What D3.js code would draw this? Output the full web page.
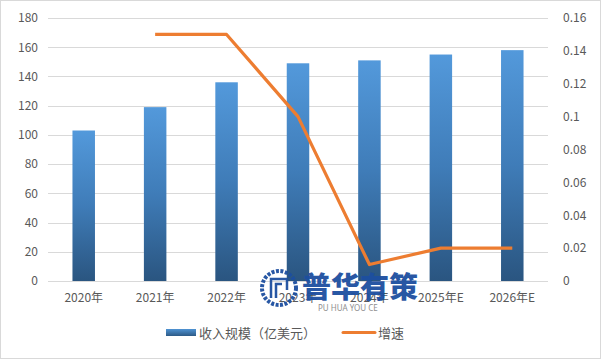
<!DOCTYPE html>
<html><head><meta charset="utf-8">
<script src="https://cdn.jsdelivr.net/npm/d3@7"></script>
<style>
html,body{margin:0;padding:0;background:#fff;}
svg{display:block;font-family:"Noto Sans CJK SC","Noto Sans",sans-serif;}
</style></head>
<body>
<svg id="chart" width="601" height="361"></svg>
<script>
const categories = ["2020年","2021年","2022年","2023年","2024年","2025年E","2026年E"];
const revenue = [103, 119, 136, 149, 151, 155, 158];
const growth = [null, 0.15, 0.15, 0.10, 0.01, 0.02, 0.02];
const leftTicks = [0,20,40,60,80,100,120,140,160,180];
const rightTicks = [0,0.02,0.04,0.06,0.08,0.1,0.12,0.14,0.16];
const seriesNames = ["收入规模（亿美元）","增速"];

const svg = d3.select("#chart");
const W = 601, H = 361;
const m = {left:48, right:53, top:18, bottom:80};
const x0 = m.left, x1 = W - m.right, y0 = H - m.bottom, y1 = m.top;

// border
svg.append("rect").attr("x",0.5).attr("y",0.5).attr("width",W-1).attr("height",H-3)
  .attr("fill","#fff").attr("stroke","#d9d9d9");

const defs = svg.append("defs");
const grad = defs.append("linearGradient").attr("id","barGrad").attr("x1",0).attr("y1",0).attr("x2",0).attr("y2",1);
grad.append("stop").attr("offset","0%").attr("stop-color","#5399db");
grad.append("stop").attr("offset","50%").attr("stop-color","#3f7cb8");
grad.append("stop").attr("offset","100%").attr("stop-color","#2a5580");
const lgGrad = defs.append("linearGradient").attr("id","lgGrad").attr("x1",0).attr("y1",0).attr("x2",0).attr("y2",1);
lgGrad.append("stop").attr("offset","0%").attr("stop-color","#4f93d3");
lgGrad.append("stop").attr("offset","100%").attr("stop-color","#2d5a86");

const x = d3.scaleBand().domain(categories).range([x0,x1]).paddingInner(0.685).paddingOuter(0.3425);
const yL = d3.scaleLinear().domain([0,180]).range([y0,y1]);
const yR = d3.scaleLinear().domain([0,0.16]).range([y0,y1]);

// gridlines
svg.append("g").selectAll("line").data(leftTicks).join("line")
  .attr("x1",x0).attr("x2",x1).attr("y1",d=>Math.round(yL(d))+0.5).attr("y2",d=>Math.round(yL(d))+0.5)
  .attr("stroke","#d9d9d9").attr("stroke-width",1);

// left axis
const axL = svg.append("g").attr("transform",`translate(${x0},0)`)
  .call(d3.axisLeft(yL).tickValues(leftTicks).tickSize(0).tickPadding(10).tickFormat(d3.format("d")));
axL.select(".domain").remove();
axL.selectAll("text").attr("fill","#595959").style("font-size","12px").style("font-family","'Noto Sans CJK SC',sans-serif");

// right axis
const axR = svg.append("g").attr("transform",`translate(${x1},0)`)
  .call(d3.axisRight(yR).tickValues(rightTicks).tickSize(0).tickPadding(15).tickFormat(d=>d===0?"0":String(+d.toFixed(2))));
axR.select(".domain").remove();
axR.selectAll("text").attr("fill","#595959").style("font-size","12px").style("font-family","'Noto Sans CJK SC',sans-serif");

// bars
svg.append("g").selectAll("rect").data(revenue).join("rect")
  .attr("x",(d,i)=>x(categories[i])).attr("width",x.bandwidth())
  .attr("y",d=>yL(d)).attr("height",d=>yL(0)-yL(d))
  .attr("fill","url(#barGrad)");

// x axis
const axB = svg.append("g").attr("transform",`translate(0,${y0})`)
  .call(d3.axisBottom(x).tickSize(0).tickPadding(12));
axB.select(".domain").remove();
axB.selectAll("text").attr("fill","#595959").style("font-size","12px").style("font-family","'Noto Sans CJK SC',sans-serif");

// line
const line = d3.line().defined(d=>d!==null)
  .x((d,i)=>x(categories[i])+x.bandwidth()/2).y(d=>yR(d));
svg.append("path").datum(growth).attr("d",line)
  .attr("fill","none").attr("stroke","#ed7d31").attr("stroke-width",3.2).attr("stroke-linejoin","round");

// watermark
const wm = svg.append("g").attr("opacity",0.95);
const cx = 279, cy = 288;
wm.append("circle").attr("cx",cx).attr("cy",cy).attr("r",17).attr("fill","none").attr("stroke","#1d4fa0").attr("stroke-width",4).attr("stroke-dasharray","3 1.5");
wm.append("path").attr("d",`M${cx-8},${cy+10}V${cy-9}H${cx+8}V${cy+2}M${cx-3},${cy+10}V${cy-4}H${cx+3}`)
  .attr("fill","none").attr("stroke","#1d4fa0").attr("stroke-width",2.5);
wm.append("text").attr("x",302).attr("y",298).text("普华有策")
  .attr("fill","#1d4fa0").style("font-size","29px").style("font-weight","900").style("font-family","'Noto Sans CJK SC',sans-serif");
wm.append("text").attr("x",318).attr("y",311).text("PU HUA YOU CE")
  .attr("fill","#8a8a8a").style("font-size","8px").style("font-family","'Noto Sans',sans-serif");

// legend
const lg = svg.append("g");
lg.append("rect").attr("x",166).attr("y",329).attr("width",30).attr("height",7).attr("fill","url(#lgGrad)");
lg.append("text").attr("x",199).attr("y",337.5).text(seriesNames[0]).attr("fill","#595959").style("font-size","13px");
lg.append("line").attr("x1",343).attr("x2",375).attr("y1",332.5).attr("y2",332.5).attr("stroke","#ed7d31").attr("stroke-width",3).attr("stroke-linecap","round");
lg.append("text").attr("x",378).attr("y",337.5).text(seriesNames[1]).attr("fill","#595959").style("font-size","13px");
</script>
</body></html>
